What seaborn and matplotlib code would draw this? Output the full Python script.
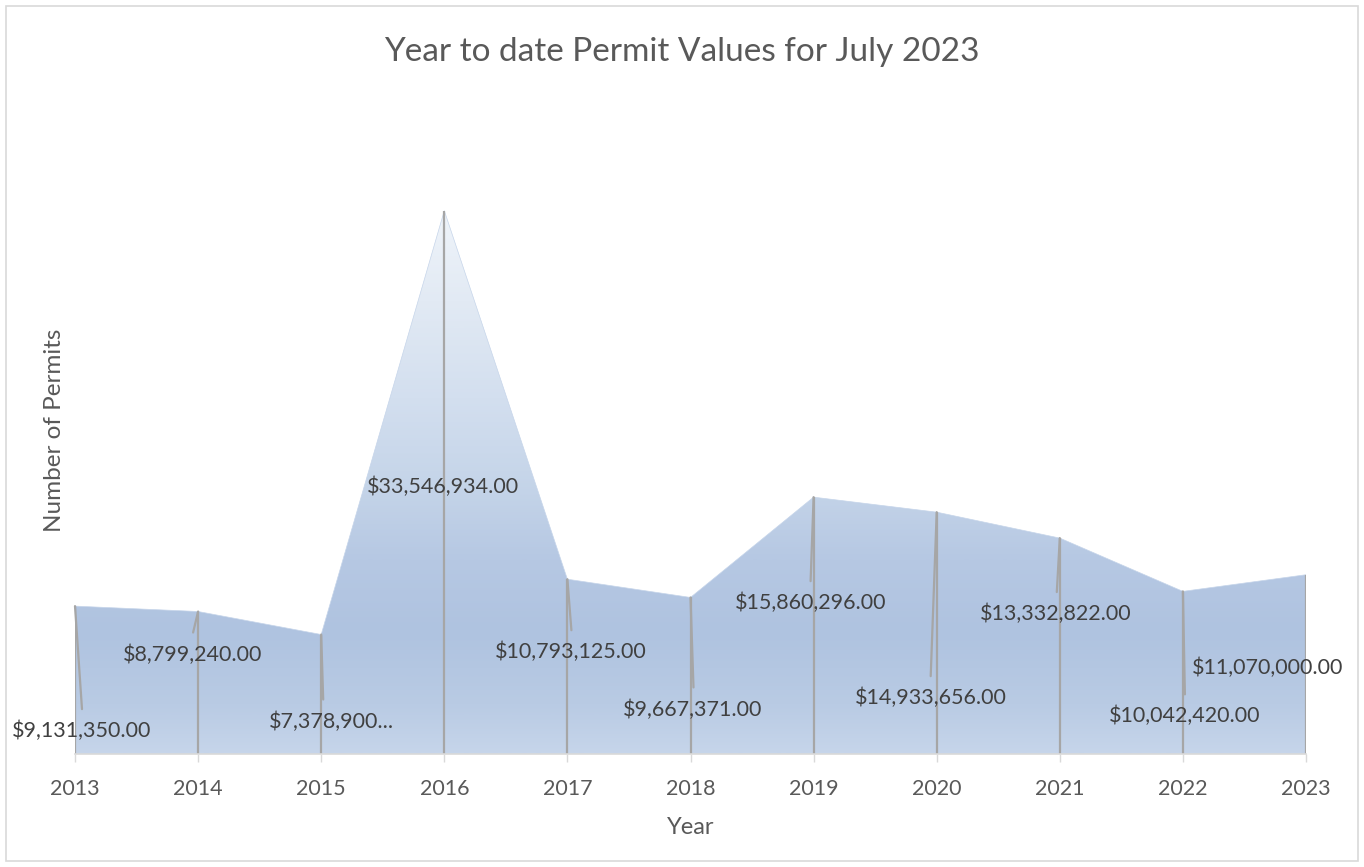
import numpy as np
import pandas as pd
import matplotlib
matplotlib.use("Agg")
import matplotlib.pyplot as plt
import seaborn as sns
from matplotlib.colors import LinearSegmentedColormap
from matplotlib.patches import Rectangle

# Year-to-date permit values (USD)
years = [2013, 2014, 2015, 2016, 2017, 2018, 2019, 2020, 2021, 2022, 2023]
values = [9131350, 8799240, 7378900, 33546934, 10793125, 9667371,
          15860296, 14933656, 13332822, 10042420, 11070000]
labels = ["$9,131,350.00", "$8,799,240.00", "$7,378,900...", "$33,546,934.00",
          "$10,793,125.00", "$9,667,371.00", "$15,860,296.00", "$14,933,656.00",
          "$13,332,822.00", "$10,042,420.00", "$11,070,000.00"]

# Label placement relative to each point (pixels); leader end x offset (None = no leader)
label_offsets = [(7, -125), (-5, -43), (10, -87), (-1, -276), (3, -73), (2, -112),
                 (-3, -106), (-6, -186), (-4, -76), (2, -125), (-38, -93)]
leader_dx = [7, -5, 2, None, 4, 3, -3, -6, -3, 2, None]

df = pd.DataFrame({"Year": years, "Value": values})

sns.set_theme(style="white")
plt.rcParams["font.family"] = ["Lato", "DejaVu Sans"]

fig = plt.figure(figsize=(13.64, 8.67), dpi=100)
ax = fig.add_axes([75 / 1364, 1 - 754 / 867, (1306 - 75) / 1364, (754 - 171) / 867])

ymax = 36_000_000
ax.set_xlim(years[0], years[-1])
ax.set_ylim(0, ymax)

# Vertical gradient fill clipped to the area under the series
stops = [(0.0, "#c6d5ea"), (3e6, "#b9cbe4"), (7.5e6, "#afc3e0"), (12e6, "#b6c8e3"),
         (16e6, "#c3d3e8"), (22e6, "#d3dfef"), (28e6, "#e2eaf4"), (33.6e6, "#eff4fa"),
         (ymax, "#f4f7fb")]
cmap = LinearSegmentedColormap.from_list("permit_fill", [(v / ymax, c) for v, c in stops])
grad = np.linspace(0, 1, 512).reshape(-1, 1)
img = ax.imshow(grad, cmap=cmap, origin="lower", aspect="auto",
                extent=[years[0], years[-1], 0, ymax], zorder=1, interpolation="bilinear")
poly = ax.fill_between(df["Year"], df["Value"], 0, facecolor="none", edgecolor="none")
clip_path = poly.get_paths()[0]
img.set_clip_path(clip_path, transform=ax.transData)

# Series outline, blended into the fill
sns.lineplot(data=df, x="Year", y="Value", ax=ax, color="#c6d5ea", linewidth=0.5, zorder=2)

# Drop lines from each point down to the axis
ax.vlines(df["Year"], 0, df["Value"], color="#a6a6a6", linewidth=1.6, zorder=3)

# Data labels with leader lines
for x, v, lab, (dx, dy), ldx in zip(years, values, labels, label_offsets, leader_dx):
    ax.annotate(lab, xy=(x, v), xytext=(dx, dy), textcoords="offset pixels",
                ha="center", va="center", fontsize=15.5, color="#404040", zorder=5)
    if ldx is not None:
        # leader runs from the point toward the label's top edge
        ax.annotate("", xy=(x, v), xytext=(ldx, dy + 22), textcoords="offset pixels",
                    arrowprops=dict(arrowstyle="-", color="#a6a6a6", lw=1.6,
                                    shrinkA=0, shrinkB=0), zorder=4)

ax.set_xticks(years)
ax.set_xticklabels([str(y) for y in years], fontsize=15.5, color="#595959")
ax.set_yticks([])
ax.tick_params(axis="x", length=6, width=1, color="#d9d9d9", pad=12, direction="out")
ax.xaxis.set_ticks_position("bottom")
for side in ["left", "right", "top"]:
    ax.spines[side].set_visible(False)
ax.spines["bottom"].set_color("#d9d9d9")
ax.spines["bottom"].set_linewidth(1.2)
ax.spines["bottom"].set_zorder(6)

ax.set_xlabel("Year", fontsize=17, color="#595959", labelpad=13)
ax.set_ylabel("")
fig.text(55 / 1364, 1 - 430 / 867, "Number of Permits", rotation=90, ha="center",
         va="center", fontsize=17.5, color="#595959")
fig.text(0.5, 1 - 52 / 867, "Year to date Permit Values for July 2023", ha="center",
         va="center", fontsize=24, color="#595959")

# Outer chart border
fig.patches.append(Rectangle((6 / 1364, 6 / 867), 1352 / 1364, 855 / 867,
                             transform=fig.transFigure, fill=False,
                             edgecolor="#d9d9d9", linewidth=1.2))

fig.savefig("out.png", dpi=100)
